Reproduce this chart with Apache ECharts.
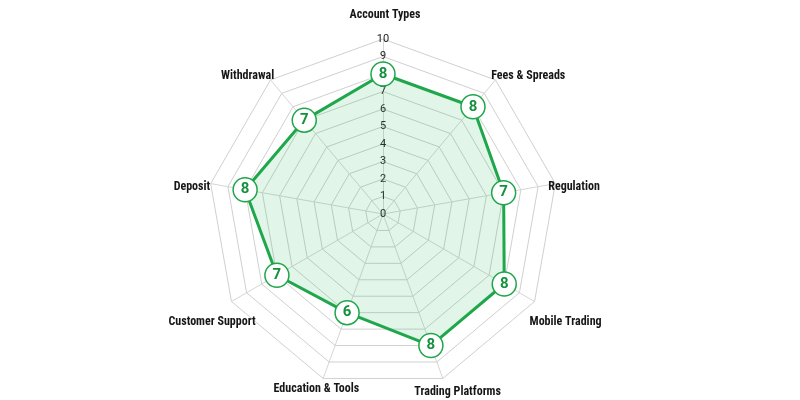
<!DOCTYPE html>
<html>
<head>
<meta charset="utf-8">
<script src="https://cdn.jsdelivr.net/npm/echarts@6/dist/echarts.min.js"></script>
<style>
html,body{margin:0;padding:0;background:#fff;}
#chart{width:800px;height:400px;}
</style>
</head>
<body>
<div id="chart"></div>
<script>
// Categories listed clockwise from the top
var categories = ['Account Types', 'Fees & Spreads', 'Regulation', 'Mobile Trading', 'Trading Platforms', 'Education & Tools', 'Customer Support', 'Deposit', 'Withdrawal'];
var scores = [8, 8, 7, 8, 8, 6, 7, 8, 7];
var maxScore = 10;

// Name placement styling (gap from the outer ring, vertical alignment, padding nudge), same order as categories
var nameGaps = [24, 23, 18, 41, 14, 11, 27, 18, 17];
var nameVAligns = ['middle', 'top', 'top', 'middle', 'middle', 'middle', 'top', 'top', 'top'];
var namePads = [
  [0, 0, 0, 4],
  [8, 0, 0, 36],
  [1, 0, 0, 2],
  [0, 9, 0, 0],
  [0, 0, 0, 20],
  [0, 6, 0, 0],
  [1, 0, 0, 8],
  [1, 2, 0, 0],
  [3, 24, 0, 0]
];

// ECharts radar runs counter-clockwise; reorder so the picture reads clockwise
var order = [0];
for (var i = categories.length - 1; i >= 1; i--) order.push(i);

var indicators = order.map(function (idx, k) {
  var ind = {
    name: categories[idx], max: maxScore, min: 0,
    nameGap: nameGaps[idx],
    nameTextStyle: { align: 'center', verticalAlign: nameVAligns[idx], padding: namePads[idx] }
  };
  if (k === 0) ind.axisLabel = { show: true };
  return ind;
});
var values = order.map(function (idx) { return scores[idx]; });

var green = '#1fa64a';
var chart = echarts.init(document.getElementById('chart'), null, { renderer: 'canvas' });
chart.setOption({
  backgroundColor: '#ffffff',
  animation: false,
  radar: {
    center: [383, 214],
    radius: 175,
    startAngle: 90,
    shape: 'polygon',
    splitNumber: 10,
    indicator: indicators,
    axisName: {
      color: '#161616',
      fontSize: 12,
      fontWeight: 'bold',
      fontFamily: '"Liberation Sans Narrow", "Roboto Condensed", Roboto, sans-serif'
    },
    axisLine: { show: true, lineStyle: { color: '#d6d6d6', width: 1 } },
    splitLine: { lineStyle: { color: '#d0d0d0', width: 1 } },
    splitArea: { show: false },
    axisTick: { show: false },
    axisLabel: {
      show: false,
      color: '#222',
      fontSize: 11,
      fontFamily: 'Roboto, sans-serif',
      align: 'center',
      verticalAlign: 'middle',
      margin: 0
    }
  },
  series: [{
    type: 'radar',
    symbol: 'circle',
    symbolSize: 24,
    lineStyle: { color: green, width: 3 },
    itemStyle: { color: '#ffffff', borderColor: green, borderWidth: 1.5 },
    areaStyle: { color: 'rgba(43,181,91,0.2)' },
    label: {
      show: true,
      position: 'inside',
      color: '#14913d',
      fontSize: 15,
      fontWeight: 'bold',
      fontFamily: 'Roboto, sans-serif'
    },
    z: 3,
    data: [{ value: values, name: 'Score' }]
  }]
});
</script>
</body>
</html>
